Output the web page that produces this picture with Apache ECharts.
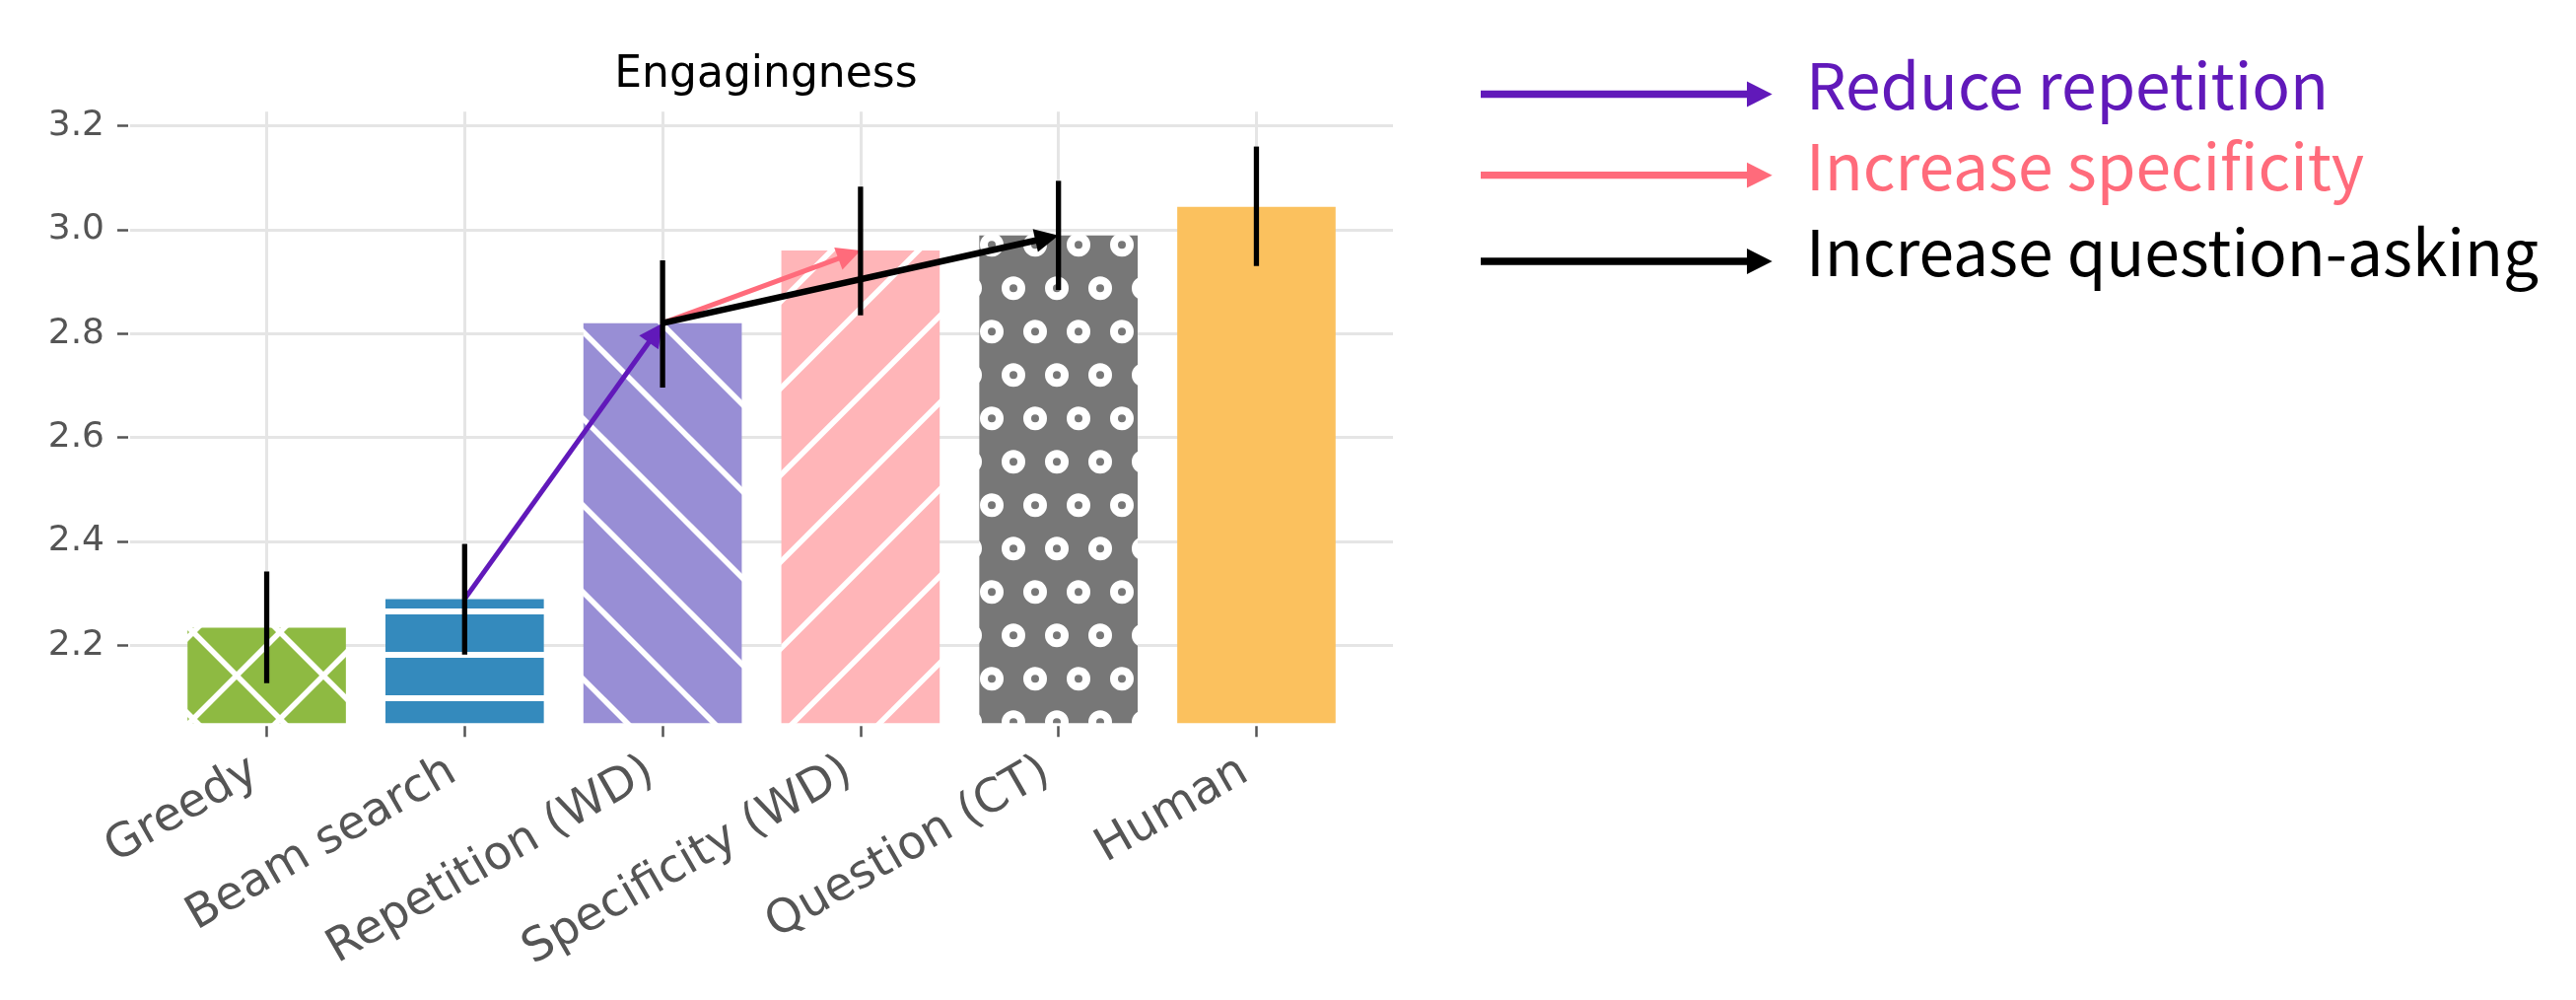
<!DOCTYPE html>
<html>
<head>
<meta charset="utf-8">
<title>Engagingness</title>
<script src="https://cdn.jsdelivr.net/npm/echarts@6/dist/echarts.min.js"></script>
<style>
    html, body { margin: 0; padding: 0; background: #fff; }
    #main { width: 2613px; height: 1014px; }
</style>
</head>
<body>
<div id="main"></div>
<script>
// data
var categories = ['Greedy', 'Beam search', 'Repetition (WD)', 'Specificity (WD)', 'Question (CT)', 'Human'];
var means = [2.234, 2.289, 2.820, 2.960, 2.989, 3.044];
var errLow = [2.127, 2.182, 2.696, 2.835, 2.884, 2.930];
var errHigh = [2.342, 2.395, 2.941, 3.083, 3.094, 3.160];
var yTicks = [2.2, 2.4, 2.6, 2.8, 3.0, 3.2];
var xTicks = [0, 1, 2, 3, 4, 5];
var yRange = [2.05, 3.227];
var xRange = [-0.69, 5.69];

// arrows between bar tops
var arrowNames = ['Reduce repetition', 'Increase specificity', 'Increase question-asking'];
var arrowFrom = [1, 2, 2];
var arrowTo = [2, 3, 4];

// styles
var barColors = ['#8EBA42', '#348ABD', '#988ED5', '#FFB5B8', '#777777', '#FBC15E'];
var arrowColors = ['#6119BA', '#FF6B7B', '#000000'];
var arrowWidths = [5, 5, 6.5];

function makeTile(w, h, bg, draw) {
    var c = document.createElement('canvas');
    c.width = w;
    c.height = h;
    var ctx = c.getContext('2d');
    ctx.fillStyle = bg;
    ctx.fillRect(0, 0, w, h);
    ctx.strokeStyle = '#ffffff';
    ctx.fillStyle = '#ffffff';
    draw(ctx, w, h);
    return { image: c, repeat: 'repeat' };
}

// lines x - y = c (back slash) and x + y = c (slash), period p
function backLines(ctx, p, c) {
    for (var k = -3; k <= 3; k++) {
        var cc = c + k * p;
        ctx.beginPath();
        ctx.moveTo(cc - 200, -200);
        ctx.lineTo(cc + 300, 300);
        ctx.stroke();
    }
}
function slashLines(ctx, p, c) {
    for (var k = -3; k <= 3; k++) {
        var cc = c + k * p;
        ctx.beginPath();
        ctx.moveTo(cc + 200, -200);
        ctx.lineTo(cc - 300, 300);
        ctx.stroke();
    }
}

var fills = [
    makeTile(88, 88, barColors[0], function (ctx) {
        ctx.lineWidth = 5.5;
        backLines(ctx, 88, 83);
        slashLines(ctx, 88, 45);
    }),
    makeTile(44, 44, barColors[1], function (ctx) {
        ctx.fillRect(0, 1, 44, 6);
    }),
    makeTile(88, 88, barColors[2], function (ctx) {
        ctx.lineWidth = 5.5;
        backLines(ctx, 88, 79);
    }),
    makeTile(88, 88, barColors[3], function (ctx) {
        ctx.lineWidth = 5.5;
        slashLines(ctx, 88, 41.6);
    }),
    makeTile(44, 88, barColors[4], function (ctx) {
        ctx.lineWidth = 8;
        var pts = [[38, 72.3], [16, 28.3]];
        for (var i = 0; i < pts.length; i++) {
            for (var dx = -44; dx <= 44; dx += 44) {
                for (var dy = -88; dy <= 88; dy += 88) {
                    ctx.beginPath();
                    ctx.arc(pts[i][0] + dx, pts[i][1] + dy, 8, 0, Math.PI * 2);
                    ctx.stroke();
                }
            }
        }
    }),
    barColors[5]
];

var barData = [];
var errData = [];
for (var i = 0; i < categories.length; i++) {
    barData.push([i, means[i]]);
    errData.push([i, errLow[i], errHigh[i]]);
}
var arrowData = [];
for (var k = 0; k < arrowNames.length; k++) {
    arrowData.push([arrowFrom[k], means[arrowFrom[k]], arrowTo[k], means[arrowTo[k]]]);
}

var myChart = echarts.init(document.getElementById('main'), null, { renderer: 'canvas' });

var legendGraphics = [];
var legendY = [95.5, 177.7, 265];
for (var k = 0; k < arrowNames.length; k++) {
    var y = legendY[k];
    legendGraphics.push({
        type: 'line',
        shape: { x1: 1502, y1: y, x2: 1775, y2: y },
        style: { stroke: arrowColors[k], lineWidth: 7.3 }
    });
    legendGraphics.push({
        type: 'polygon',
        shape: { points: [[1772, y - 12.9], [1797.7, y], [1772, y + 12.9]] },
        style: { fill: arrowColors[k] }
    });
    legendGraphics.push({
        type: 'text',
        x: 1832,
        y: y - 9,
        style: {
            text: arrowNames[k],
            fill: arrowColors[k],
            font: '64px "Noto Sans CJK SC"',
            textAlign: 'left',
            textVerticalAlign: 'middle'
        }
    });
}

var option = {
    animation: false,
    backgroundColor: '#ffffff',
    title: {
        text: 'Engagingness',
        left: 772,
        top: 50,
        textAlign: 'center',
        textStyle: { fontFamily: 'DejaVu Sans', fontSize: 44, fontWeight: 'normal', color: '#000000' }
    },
    grid: {
        left: 132,
        right: 1200,
        top: 113.3,
        bottom: 280.7,
        containLabel: false,
        outerBoundsMode: 'none'
    },
    xAxis: {
        type: 'value',
        min: xRange[0],
        max: xRange[1],
        offset: 3,
        axisLine: { show: false, onZero: false },
        axisTick: { show: true, customValues: xTicks, length: 11, lineStyle: { color: '#555555', width: 2.5 } },
        axisLabel: {
            customValues: xTicks,
            formatter: function (v) { return categories[Math.round(v)]; },
            rotate: 30,
            margin: 36,
            padding: [0, 14, 0, 0],
            hideOverlap: false,
            fontFamily: 'DejaVu Sans',
            fontSize: 47,
            color: '#555555'
        },
        splitLine: { show: true, lineStyle: { color: '#e5e5e5', width: 3, type: 'solid' } }
    },
    yAxis: {
        type: 'value',
        min: yRange[0],
        max: yRange[1],
        offset: 2,
        axisLine: { show: false, onZero: false },
        axisTick: { show: true, customValues: yTicks, length: 11, lineStyle: { color: '#555555', width: 2.5 } },
        axisLabel: {
            customValues: yTicks,
            formatter: function (v) { return v.toFixed(1); },
            margin: 24,
            hideOverlap: false,
            fontFamily: 'DejaVu Sans',
            fontSize: 36,
            color: '#555555'
        },
        splitLine: { show: true, lineStyle: { color: '#e5e5e5', width: 3, type: 'solid' } }
    },
    graphic: legendGraphics,
    series: [
        {
            type: 'custom',
            name: 'bars',
            data: barData,
            encode: { x: 0, y: 1 },
            z: 2,
            renderItem: function (params, api) {
                var i = api.value(0);
                var top = api.coord([i - 0.4, api.value(1)]);
                var bottom = api.coord([i + 0.4, yRange[0]]);
                return {
                    type: 'rect',
                    shape: { x: top[0], y: top[1], width: bottom[0] - top[0], height: bottom[1] - top[1] },
                    style: { fill: fills[params.dataIndex] }
                };
            }
        },
        {
            type: 'custom',
            name: 'arrows',
            data: arrowData,
            encode: { x: [0, 2], y: [1, 3] },
            z: 3,
            renderItem: function (params, api) {
                var p0 = api.coord([api.value(0), api.value(1)]);
                var p1 = api.coord([api.value(2), api.value(3)]);
                var color = arrowColors[params.dataIndex];
                var dx = p1[0] - p0[0], dy = p1[1] - p0[1];
                var len = Math.sqrt(dx * dx + dy * dy);
                var ux = dx / len, uy = dy / len;
                var hl = 24, hw = 12;
                var bx = p1[0] - ux * hl, by = p1[1] - uy * hl;
                return {
                    type: 'group',
                    children: [
                        {
                            type: 'line',
                            shape: { x1: p0[0], y1: p0[1], x2: bx + ux * 3, y2: by + uy * 3 },
                            style: { stroke: color, lineWidth: arrowWidths[params.dataIndex] }
                        },
                        {
                            type: 'polygon',
                            shape: { points: [[p1[0], p1[1]], [bx - uy * hw, by + ux * hw], [bx + uy * hw, by - ux * hw]] },
                            style: { fill: color }
                        }
                    ]
                };
            }
        },
        {
            type: 'custom',
            name: 'errors',
            data: errData,
            encode: { x: 0, y: [1, 2] },
            z: 4,
            renderItem: function (params, api) {
                var lo = api.coord([api.value(0), api.value(1)]);
                var hi = api.coord([api.value(0), api.value(2)]);
                return {
                    type: 'line',
                    shape: { x1: lo[0], y1: lo[1], x2: hi[0], y2: hi[1] },
                    style: { stroke: '#000000', lineWidth: 5.3 }
                };
            }
        }
    ]
};

myChart.setOption(option);
</script>
</body>
</html>
